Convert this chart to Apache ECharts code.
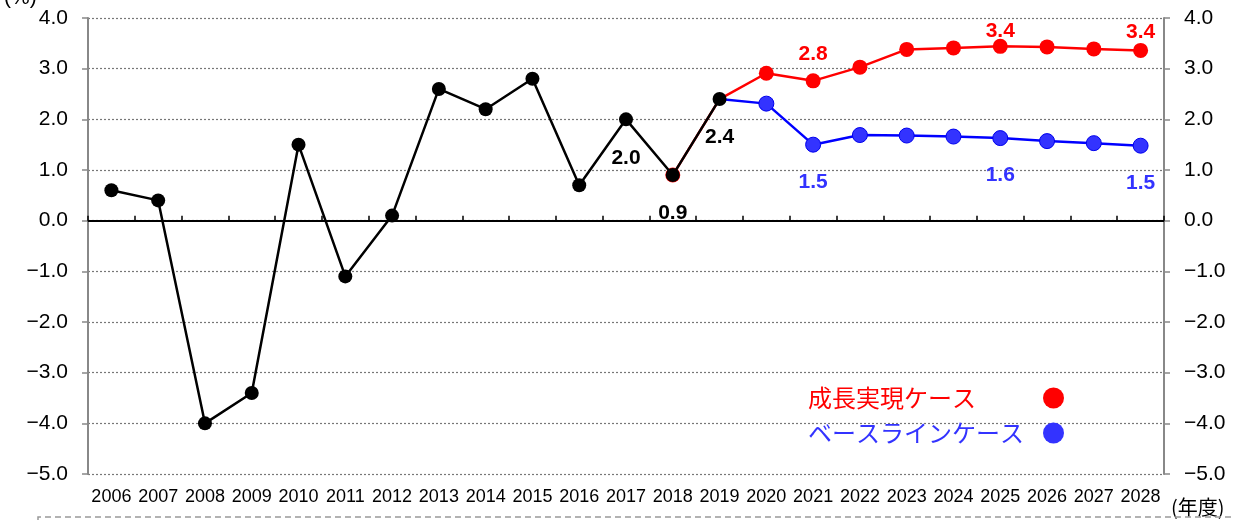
<!DOCTYPE html>
<html>
<head>
<meta charset="utf-8">
<script src="https://cdn.jsdelivr.net/npm/echarts@6/dist/echarts.min.js"></script>
<style>
  html, body { margin: 0; padding: 0; background: #fff; }
  #chart { width: 1235px; height: 522px; }
</style>
</head>
<body>
<div id="chart"></div>
<script>
const years = ['2006', '2007', '2008', '2009', '2010', '2011', '2012', '2013', '2014', '2015', '2016', '2017',
  '2018', '2019', '2020', '2021', '2022', '2023', '2024', '2025', '2026', '2027', '2028']

// 実績 (actual)
const actual = [0.6, 0.4, -4.0, -3.4, 1.5, -1.1, 0.1, 2.6, 2.2, 2.8, 0.7, 2.0, 0.9, 2.4,
  null, null, null, null, null, null, null, null, null]
// 成長実現ケース
const growthCase = [null, null, null, null, null, null, null, null, null, null, null, null,
  0.9, 2.4, 2.91, 2.76, 3.03, 3.38, 3.41, 3.44, 3.43, 3.39, 3.36]
// ベースラインケース
const baselineCase = [null, null, null, null, null, null, null, null, null, null, null, null,
  null, 2.4, 2.31, 1.5, 1.69, 1.68, 1.66, 1.63, 1.57, 1.53, 1.48]

// which points carry a value label
const actualLabelIdx = [11, 12, 13]
const growthLabelIdx = [15, 19, 22]
const baselineLabelIdx = [15, 19, 22]

const chart = echarts.init(document.getElementById('chart'))

const numFont = '"Liberation Sans", Arial, sans-serif'
const jpFont = '"Noto Sans CJK JP", sans-serif'
const SPLIT_IDX = 13 // 2019: projections start here, hide their symbol (actual is drawn)

const buildData = (values, idx, color, position, distances, hideIdx) =>
  values.map((v, i) => {
    if (v === null) return v
    const item = { value: v }
    if (i === hideIdx) item.symbol = 'none'
    const k = idx.indexOf(i)
    if (k >= 0) {
      item.label = {
        show: true,
        position: position,
        distance: distances[k],
        color: color,
        fontFamily: numFont,
        fontWeight: 'bold',
        fontSize: 21,
        formatter: (p) => p.value.toFixed(1),
      }
    }
    return item
  })

const yAxisBase = {
  type: 'value',
  min: -5,
  max: 4,
  interval: 1,
  axisLabel: {
    color: '#000',
    fontFamily: numFont,
    fontSize: 21,
    margin: 20,
    formatter: (v) => v.toFixed(1).replace('-', '\u2212'),
  },
  axisLine: { show: true, lineStyle: { color: '#888', width: 2 } },
  axisTick: { show: true, length: 6, lineStyle: { color: '#888', width: 1.5 } },
}

const option = {
  backgroundColor: '#fff',
  animation: false,
  grid: { left: 88, right: 71, top: 18, bottom: 48 },
  legend: {
    orient: 'vertical',
    left: 808,
    top: 386,
    padding: 0,
    align: 'right',
    icon: 'circle',
    itemWidth: 21,
    itemHeight: 21,
    itemGap: 11,
    selectedMode: false,
    formatter: (name) => `{t|${name}}`,
    textStyle: {
      fontFamily: jpFont,
      fontSize: 24,
      rich: { t: { width: 230, align: 'left', fontFamily: jpFont, fontSize: 24 } },
    },
    data: [
      { name: '成長実現ケース', textStyle: { color: '#ff0000' }, itemStyle: { color: '#ff0000', borderWidth: 0 } },
      { name: 'ベースラインケース', textStyle: { color: '#3333ff' }, itemStyle: { color: '#3333ff', borderWidth: 0 } },
    ],
  },
  xAxis: [
    {
      type: 'category',
      data: years,
      position: 'bottom',
      axisLine: { show: false, onZero: false },
      axisTick: { show: false },
      axisLabel: {
        interval: 0,
        color: '#000',
        fontFamily: numFont,
        fontSize: 18,
        margin: 14,
      },
      splitLine: {
        show: true,
        interval: (index) => index === 12,
        lineStyle: { color: '#a8a8a8', width: 1 },
      },
    },
    {
      type: 'category',
      data: years,
      position: 'top',
      axisLine: { show: true, onZero: true, lineStyle: { color: '#000', width: 2 } },
      axisTick: { show: true, interval: 0, length: 5, lineStyle: { color: '#000', width: 1.5 } },
      axisLabel: { show: false },
      splitLine: { show: false },
    },
  ],
  yAxis: [
    Object.assign({}, yAxisBase, {
      position: 'left',
      splitLine: { show: true, lineStyle: { color: '#777', type: [2, 2], width: 1.2 } },
    }),
    Object.assign({}, yAxisBase, {
      position: 'right',
      splitLine: { show: false },
    }),
  ],
  graphic: [
    { type: 'text', left: 4, top: -12, style: { text: '(%)', font: '21px "Liberation Sans"', fill: '#000' } },
    { type: 'text', left: 1171, top: 497, style: { text: '(年度)', font: '20px "Noto Sans CJK JP"', fill: '#000' } },
    {
      type: 'polyline',
      shape: { points: [[38, 530], [38, 517], [1240, 517]] },
      style: { stroke: '#999', lineWidth: 1.5, lineDash: [6, 4], fill: null },
      silent: true,
    },
  ],
  series: [
    {
      name: '成長実現ケース',
      type: 'line',
      data: buildData(growthCase, growthLabelIdx, '#ff0000', 'top', [9, -3, 0], SPLIT_IDX),
      symbol: 'circle',
      symbolSize: 15,
      lineStyle: { color: '#ff0000', width: 2.5 },
      itemStyle: { color: '#ff0000' },
      z: 2,
    },
    {
      name: 'ベースラインケース',
      type: 'line',
      data: buildData(baselineCase, baselineLabelIdx, '#3333ff', 'bottom', [19, 19, 19], SPLIT_IDX),
      symbol: 'circle',
      symbolSize: 15,
      lineStyle: { color: '#0000ff', width: 2.5 },
      itemStyle: { color: '#3333ff', borderColor: '#0000ee', borderWidth: 1 },
      z: 3,
    },
    {
      name: '実績',
      type: 'line',
      data: buildData(actual, actualLabelIdx, '#000', 'bottom', [21, 21, 21], -1),
      symbol: 'circle',
      symbolSize: 14,
      lineStyle: { color: '#000', width: 2.5 },
      itemStyle: { color: '#000' },
      z: 4,
    },
  ],
}

chart.setOption(option)
</script>
</body>
</html>
